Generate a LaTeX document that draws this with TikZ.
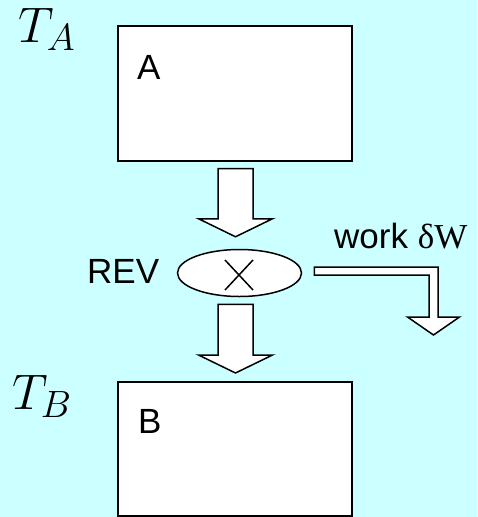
\RequirePackage{fix-cm}
\documentclass[tikz,border=0pt]{standalone}
\usepackage{fontspec}
\setsansfont{Liberation Sans}
\newfontfamily\serifW{Liberation Serif}
\usetikzlibrary{calc,shapes.geometric}
\definecolor{bgcyan}{RGB}{204,255,255}
\DeclareMathSizes{50}{50}{38}{30}
\tikzset{
 box/.style={draw=black, line width=2pt, fill=white, rectangle, minimum width=234pt, minimum height=135pt, inner sep=0pt},
 lab/.style={font=\sffamily\fontsize{35}{42}\selectfont, inner sep=0pt, anchor=base west},
 tlab/.style={font=\fontsize{50}{56}\selectfont, inner sep=0pt, anchor=base west},
 blockarr/.style={draw=black, line width=1.5pt, fill=white, line join=miter},
 revshape/.style={ellipse, draw=black, line width=1.5pt, fill=white, minimum width=124pt, minimum height=47pt, inner sep=0pt},
 crossline/.style={draw=black, line width=1.5pt},
}
\newcommand{\blkdown}[2]{\draw[blockarr] let \p1=(#1), \p2=(#2) in (\x1-17.5pt,\y1) -- (\x1+17.5pt,\y1) -- (\x1+17.5pt,\y2+18pt) -- (\x1+37pt,\y2+18pt) -- (\x1,\y2) -- (\x1-37pt,\y2+18pt) -- (\x1-17.5pt,\y2+18pt) -- cycle;}
\newcommand{\tsub}[1]{_{\lower1pt\hbox{$\scriptstyle #1$}}}
\begin{document}
\begin{tikzpicture}[x=1pt,y=-1pt]
\fill[bgcyan] (0,0) rectangle (477,517);
\useasboundingbox (0,0) rectangle (477,517);
% boxes
\node[box] (A) at (234.5,93) {};
\node[box, minimum height=134pt] (B) at (234.5,449) {};
% reversible engine
\node[revshape] (rev) at (239.5,273) {};
\draw[crossline] ($(rev.center)+(-14.5,-13)$) -- ($(rev.center)+(13.5,17)$);
\draw[crossline] ($(rev.center)+(13.5,-13)$) -- ($(rev.center)+(-14.5,17)$);
% arrow coordinates
\coordinate (a1s) at ($(A.south)+(1,7)$);
\coordinate (a1t) at ($(rev.north)+(-4,-12)$);
\coordinate (a2s) at ($(rev.south)+(-4,7)$);
\coordinate (a2t) at ($(B.north)+(1,-8)$);
\blkdown{a1s}{a1t}
\blkdown{a2s}{a2t}
% work arrow
\coordinate (ws) at ($(rev.east)+(12,-2)$);
\coordinate (wt) at (433.5,335);
\draw[blockarr] let \p1=(ws), \p2=(wt) in (\x1,\y1+4pt) -- (\x2+4.5pt,\y1+4pt) -- (\x2+4.5pt,\y2+18pt) -- (\x2+26pt,\y2+18pt) -- (\x2,\y2) -- (\x2-26pt,\y2+18pt) -- (\x2-4.5pt,\y2+18pt) -- (\x2-4.5pt,\y1-4pt) -- (\x1,\y1-4pt) -- cycle;
% labels
\node[lab] (labA) at (137,79) {A};
\node[lab] (labB) at (138,433) {B};
\node[lab] (labrev) at (87,283) {REV};
\node[lab] (labwork) at (334,248) {work {\serifW δW}};
\node[tlab] (tA) at (18,42) {$T\tsub{A}$};
\node[tlab] (tB) at (12,409) {$T\tsub{B}$};
\end{tikzpicture}
\end{document}
